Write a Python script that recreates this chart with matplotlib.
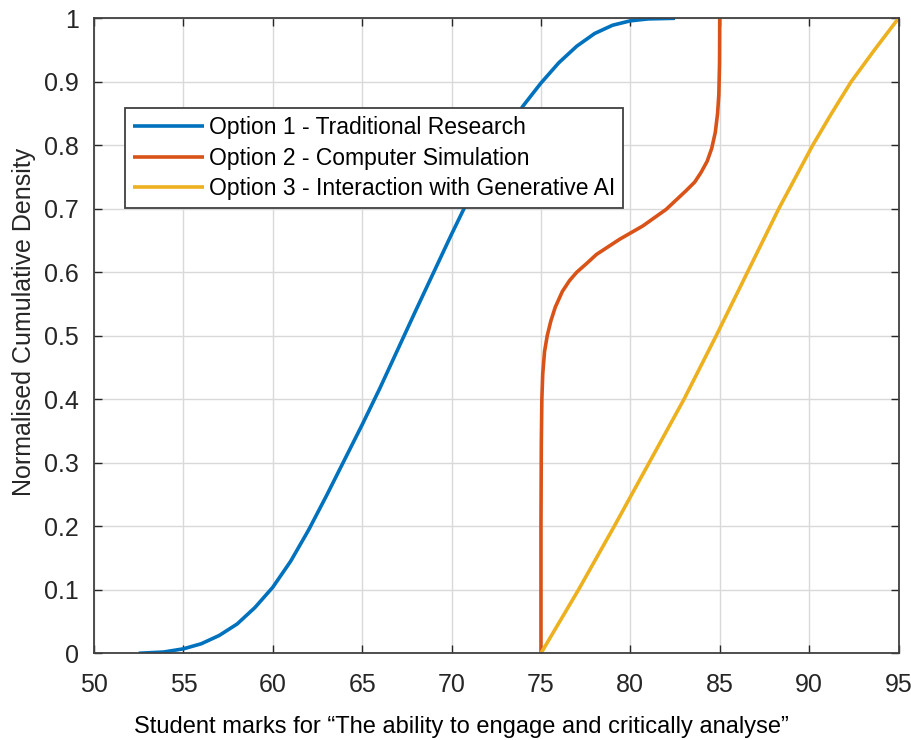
import matplotlib
matplotlib.use("Agg")
import matplotlib.pyplot as plt

plt.rcParams['font.family'] = ['Liberation Sans', 'DejaVu Sans']

# Values
opt1_x = [52.5, 53.9, 55.0, 56.0, 57.0, 58.0, 59.0, 60.0, 61.0, 62.0, 63.0, 64.0, 65.0,
          66.0, 67.0, 68.0, 69.0, 70.0, 71.0, 72.0, 73.0, 74.0, 75.0, 76.0, 77.0,
          78.0, 79.0, 80.0, 81.0, 82.5]
opt1_y = [0.0, 0.002, 0.007, 0.015, 0.028, 0.046, 0.072, 0.104, 0.145, 0.194, 0.248, 0.304, 0.360,
          0.418, 0.479, 0.540, 0.600, 0.660, 0.718, 0.772, 0.820, 0.862, 0.898, 0.930, 0.956,
          0.976, 0.989, 0.996, 0.999, 1.0]

opt2_x = [75.0, 75.0, 75.02, 75.05, 75.1, 75.2, 75.35, 75.55, 75.8, 76.2, 76.6, 77.0, 77.6,
          78.1, 79.4, 80.7, 82.0, 83.1, 83.6, 83.95, 84.3, 84.55, 84.75, 84.88, 84.95, 84.99, 85.0]
opt2_y = [0.0, 0.20, 0.33, 0.40, 0.44, 0.475, 0.50, 0.523, 0.545, 0.570, 0.587, 0.600, 0.615,
          0.628, 0.652, 0.673, 0.699, 0.728, 0.742, 0.757, 0.775, 0.795, 0.820, 0.850, 0.880, 0.930, 1.0]

opt3_x = [75.0, 77.1, 79.1, 81.05, 83.0, 84.8, 86.55, 88.3, 90.2, 91.25, 92.35, 93.65, 95.0]
opt3_y = [0.0, 0.1, 0.2, 0.3, 0.4, 0.5, 0.6, 0.7, 0.8, 0.85, 0.9, 0.95, 1.0]

labels = ["Option 1 - Traditional Research",
          "Option 2 - Computer Simulation",
          "Option 3 - Interaction with Generative AI"]
colors = ["#0072BD", "#D95319", "#EDB120"]

x_ticks = list(range(50, 96, 5))
y_ticks = [0, 0.1, 0.2, 0.3, 0.4, 0.5, 0.6, 0.7, 0.8, 0.9, 1]
y_ticklabels = ["0", "0.1", "0.2", "0.3", "0.4", "0.5", "0.6", "0.7", "0.8", "0.9", "1"]

fig = plt.figure(figsize=(9.12, 7.4), dpi=100)
ax = fig.add_axes([0.1031, 0.1172, 0.8821, 0.8581])

series = [(opt1_x, opt1_y), (opt2_x, opt2_y), (opt3_x, opt3_y)]
for (xs, ys), lab, col in zip(series, labels, colors):
    ax.plot(xs, ys, color=col, lw=2.6, label=lab, solid_capstyle='butt',
            solid_joinstyle='round')

ax.set_xlim(50, 95)
ax.set_ylim(0, 1)
ax.set_xticks(x_ticks)
ax.set_yticks(y_ticks)
ax.set_yticklabels(y_ticklabels)
ax.grid(True, color='#d9d9d9', lw=1.0)
ax.set_axisbelow(True)
ax.tick_params(direction='in', top=True, right=True, length=6, width=1.0,
               colors='#262626', labelsize=18)
ax.tick_params(axis='x', pad=14)
ax.tick_params(axis='y', pad=11)
for sp in ax.spines.values():
    sp.set_color('#404040')
    sp.set_linewidth(1.3)

ax.set_xlabel("Student marks for \u201cThe ability to engage and critically analyse\u201d",
              fontsize=17, color='black')
ax.xaxis.set_label_coords(0.4565, -0.098, transform=ax.transAxes)
ax.xaxis.label.set_va('top')
ax.set_ylabel("Normalised Cumulative Density", fontsize=18, color='#262626')
ax.yaxis.set_label_coords(-0.072, 0.522)

leg = ax.legend(loc='upper left', bbox_to_anchor=(0.0385, 0.8587), fontsize=16.5,
                frameon=True, fancybox=False, framealpha=1, edgecolor='#404040',
                handlelength=3.1, handletextpad=0.2, labelspacing=0.33,
                borderpad=0.35, borderaxespad=0)
leg.get_frame().set_linewidth(1.3)

fig.savefig("out.png", dpi=100)
